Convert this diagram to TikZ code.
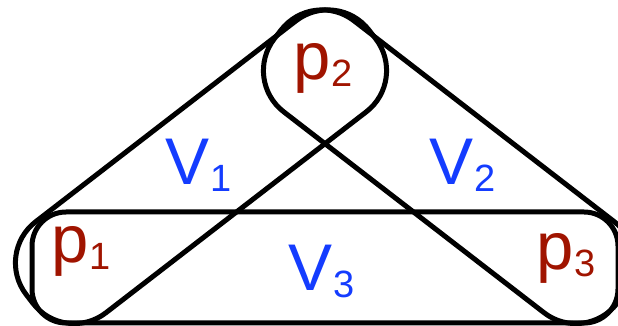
\documentclass[tikz,border=0pt]{standalone}
\usepackage{fontspec}
\setmainfont{Liberation Sans}
\usetikzlibrary{positioning}
\definecolor{ptred}{RGB}{160,20,0}
\definecolor{setblue}{RGB}{20,60,255}
\newcommand{\lbl}[2]{#1\kern1pt\raisebox{-7pt}{\fontsize{38}{38}\selectfont #2}}

\begin{document}
\begin{tikzpicture}[
      x=1pt,y=1pt,
      hedge/.style={draw, line width=5pt, inner sep=0pt, minimum height=115pt, minimum width=433pt, rounded corners=52pt},
      pt/.style={anchor=base west, inner sep=0pt, text=ptred, font=\fontsize{67}{67}\selectfont},
      set/.style={anchor=base west, inner sep=0pt, text=setblue, font=\fontsize{66}{66}\selectfont}
    ]
      \clip (0,0) rectangle (618,326);
      % the three sets
      \node[hedge, rotate=37.66] (v1) at (201,159.25) {};
      \node[hedge, rotate=-37.66] (v2) at (449,159.25) {};
      \node[hedge, minimum width=586pt, minimum height=111pt, rounded corners=34pt] (v3) at (325,58.5) {};
      % points
      \node[pt] (p1) at (51,63) {\lbl{p}{1}};
      \node[pt] (p2) at (293,246) {\lbl{p}{2}};
      \node[pt] (p3) at (536,56) {\lbl{p}{3}};
      % set labels
      \node[set] (l1) at (165,141) {\lbl{V}{1}};
      \node[set] (l2) at (429,141) {\lbl{V}{2}};
      \node[set] (l3) at (288,35) {\lbl{V}{3}};
    \end{tikzpicture}
\end{document}
